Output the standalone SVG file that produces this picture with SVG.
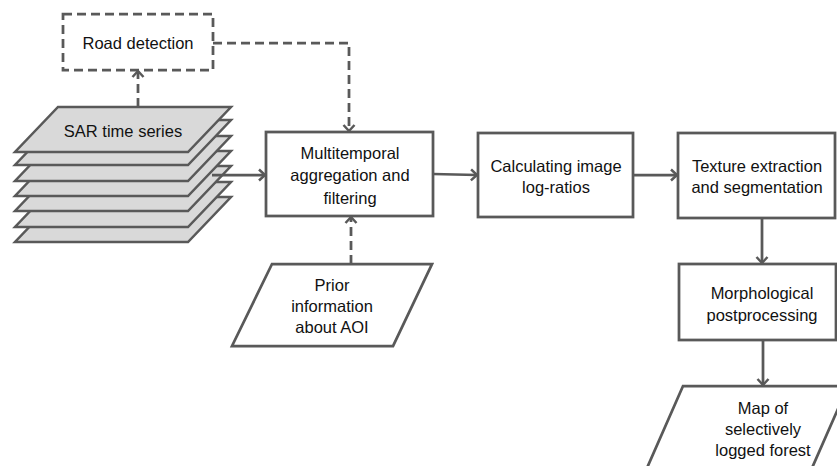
<svg xmlns="http://www.w3.org/2000/svg" width="837" height="466" viewBox="0 0 837 466">
<style>
.box{fill:#fff;stroke:#595959;stroke-width:2.75}
.dbox{fill:#fff;stroke:#595959;stroke-width:2.75;stroke-dasharray:9 5}
.layer{fill:#d9d9d9;stroke:#595959;stroke-width:2.5;stroke-linejoin:miter}
.c{fill:none;stroke:#595959;stroke-width:2.75}
.d{stroke-dasharray:9 5}
text{font-family:"Liberation Sans",Arial,sans-serif;font-size:16.5px;fill:#111;text-anchor:middle}
</style>
<defs>
<marker id="arr" markerUnits="userSpaceOnUse" markerWidth="16" markerHeight="16" viewBox="-8 -8 16 16" refX="0" refY="0" orient="auto">
<path d="M-6,-5.5 L0,0 L-6,5.5" fill="none" stroke="#595959" stroke-width="2.5"/>
</marker>
</defs>
<rect width="837" height="466" fill="#fff"/>
<g id="road-detection">
<rect class="dbox" x="63" y="14" width="150" height="56"/>
<text x="138" y="49">Road detection</text>
</g>
<g id="sar-time-series">
<polygon class="layer" points="58,197 231,197 188,242 15,242"/>
<polygon class="layer" points="58,182 231,182 188,227 15,227"/>
<polygon class="layer" points="58,166 231,166 188,211 15,211"/>
<polygon class="layer" points="58,151 231,151 188,196 15,196"/>
<polygon class="layer" points="58,136 231,136 188,181 15,181"/>
<polygon class="layer" points="58,120 231,120 188,165 15,165"/>
<polygon class="layer" points="58,107 231,107 188,152 15,152"/>
<text x="123" y="137">SAR time series</text>
</g>
<g id="multitemporal">
<rect class="box" x="266" y="132" width="167" height="84"/>
<text x="350" y="159">Multitemporal</text>
<text x="350" y="181">aggregation and</text>
<text x="350" y="204">filtering</text>
</g>
<g id="prior-info">
<polygon class="box" points="272,264 432,264 393,346 232,346"/>
<text x="332" y="291">Prior</text>
<text x="332" y="312">information</text>
<text x="332" y="333">about AOI</text>
</g>
<g id="log-ratios">
<rect class="box" x="478" y="133" width="155" height="84"/>
<text x="556" y="172">Calculating image</text>
<text x="556" y="193">log-ratios</text>
</g>
<g id="texture">
<rect class="box" x="678" y="133" width="157" height="85"/>
<text x="757" y="172">Texture extraction</text>
<text x="757" y="193">and segmentation</text>
</g>
<g id="morphological">
<rect class="box" x="679" y="264" width="157" height="76"/>
<text x="762" y="299">Morphological</text>
<text x="762" y="321">postprocessing</text>
</g>
<g id="map">
<polygon class="box" points="683,386 848,386 812,468 647,468"/>
<text x="763" y="414">Map of</text>
<text x="763" y="435">selectively</text>
<text x="763" y="456">logged forest</text>
</g>
<g id="connectors">
<line class="c d" x1="138" y1="107" x2="138" y2="71" marker-end="url(#arr)"/>
<polyline class="c d" points="213,43 349,43 349,131" marker-end="url(#arr)"/>
<line class="c" x1="212" y1="175" x2="265" y2="175" marker-end="url(#arr)"/>
<line class="c d" x1="351" y1="264" x2="351" y2="217" marker-end="url(#arr)"/>
<line class="c" x1="433" y1="174" x2="477" y2="175" marker-end="url(#arr)"/>
<line class="c" x1="633" y1="175" x2="677" y2="175" marker-end="url(#arr)"/>
<line class="c" x1="762" y1="218" x2="762" y2="263" marker-end="url(#arr)"/>
<line class="c" x1="763" y1="340" x2="763" y2="385" marker-end="url(#arr)"/>
</g>
</svg>
